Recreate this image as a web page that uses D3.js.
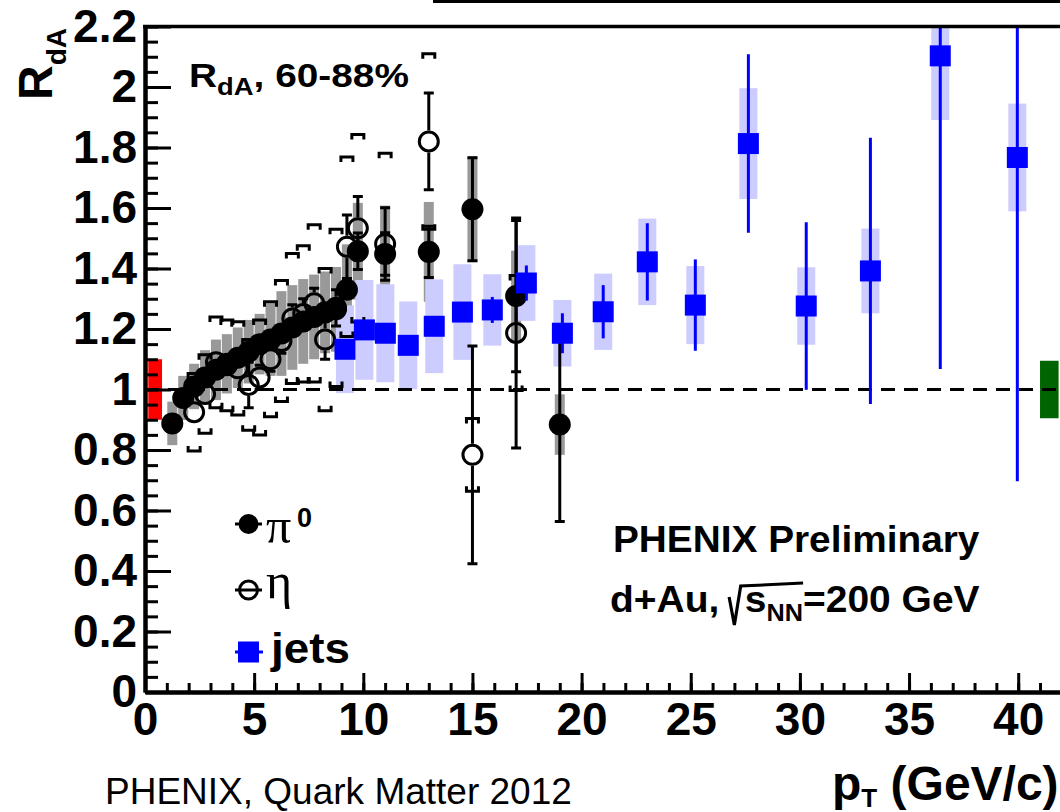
<!DOCTYPE html>
<html>
<head>
<meta charset="utf-8">
<script src="https://cdn.jsdelivr.net/npm/d3@7"></script>
<style>
  body { margin: 0; background: #fff; }
  svg { display: block; font-family: "Liberation Sans", Arial, Helvetica, sans-serif; }
</style>
</head>
<body>
<svg id="chart" width="1060" height="812"></svg>
<script>
'use strict';

// axis ticks
const xTicks = [0, 5, 10, 15, 20, 25, 30, 35, 40];
const yTicks = [0, 0.2, 0.4, 0.6, 0.8, 1, 1.2, 1.4, 1.6, 1.8, 2, 2.2];

// pi0 (filled circles): pT, RdA, stat error, syst error
const pi0Pt   = [1.25, 1.75, 2.25, 2.75, 3.25, 3.75, 4.25, 4.75, 5.25, 5.75, 6.25, 6.75, 7.25, 7.75, 8.25, 8.75, 9.25, 9.75, 11, 13, 15, 17, 19];
const pi0R    = [0.888, 0.972, 1.01, 1.04, 1.065, 1.085, 1.105, 1.125, 1.15, 1.165, 1.185, 1.205, 1.225, 1.24, 1.255, 1.265, 1.33, 1.457, 1.448, 1.455, 1.596, 1.309, 0.884];
const pi0Stat = [0.01, 0.01, 0.01, 0.01, 0.01, 0.01, 0.01, 0.012, 0.012, 0.015, 0.015, 0.018, 0.02, 0.02, 0.022, 0.025, 0.03, 0.06, 0.07, 0.085, 0.17, 0.25, 0.32];
const pi0Sys  = [0.072, 0.073, 0.075, 0.09, 0.1, 0.098, 0.1, 0.105, 0.1, 0.12, 0.14, 0.14, 0.14, 0.14, 0.135, 0.14, 0.15, 0.16, 0.16, 0.165, 0.175, 0.15, 0.1];

// eta (open circles)
const etaPt   = [2.25, 2.75, 3.25, 3.75, 4.25, 4.75, 5.25, 5.75, 6.25, 6.75, 7.25, 7.75, 8.25, 8.75, 9.25, 9.75, 11, 13, 15, 17];
const etaR    = [0.925, 0.985, 1.09, 1.08, 1.07, 1.015, 1.04, 1.10, 1.16, 1.235, 1.25, 1.285, 1.165, 1.27, 1.472, 1.533, 1.481, 1.82, 0.784, 1.187];
const etaStat = [0.02, 0.02, 0.02, 0.02, 0.025, 0.075, 0.04, 0.04, 0.04, 0.045, 0.05, 0.05, 0.065, 0.06, 0.105, 0.105, 0.12, 0.16, 0.36, 0.38];
const etaSys  = [0.128, 0.13, 0.15, 0.15, 0.154, 0.15, 0.19, 0.19, 0.2, 0.215, 0.225, 0.26, 0.235, 0.26, 0.297, 0.31, 0.30, 0.29, 0.12, 0.19];

// jets (blue squares)
const jetPt   = [9.16, 10.05, 11.01, 12.06, 13.25, 14.54, 15.91, 17.47, 19.12, 20.99, 23.01, 25.21, 27.64, 30.29, 33.23, 36.43, 39.96];
const jetR    = [1.133, 1.197, 1.186, 1.146, 1.209, 1.256, 1.263, 1.352, 1.186, 1.257, 1.422, 1.279, 1.813, 1.276, 1.392, 2.103, 1.767];
const jetStat = [0.02, 0.02, 0.02, 0.02, 0.025, 0.03, 0.043, 0.058, 0.066, 0.088, 0.128, 0.151, 0.295, 0.277, 0.44, 1.035, 1.07];
const jetSys  = [0.145, 0.165, 0.162, 0.145, 0.155, 0.158, 0.118, 0.125, 0.11, 0.126, 0.143, 0.129, 0.183, 0.128, 0.14, 0.212, 0.178];

// global normalisation uncertainty boxes (pT from, pT to, low, high)
const normFrom = [0.15, 41.0];
const normTo   = [0.78, 41.85];
const normLo   = [0.90, 0.905];
const normHi   = [1.10, 1.095];
const normColors = ["#ff0000", "#006400"];

const pi0 = pi0Pt.map((pt, i) => ({ pt, r: pi0R[i], stat: pi0Stat[i], sys: pi0Sys[i] }));
const eta = etaPt.map((pt, i) => ({ pt, r: etaR[i], stat: etaStat[i], sys: etaSys[i] }));
const jets = jetPt.map((pt, i) => ({ pt, r: jetR[i], stat: jetStat[i], sys: jetSys[i] }));
const norms = normFrom.map((f, i) => ({ from: f, to: normTo[i], lo: normLo[i], hi: normHi[i], color: normColors[i] }));

const svg = d3.select("#chart");

const x = d3.scaleLinear().domain([0, 43]).range([145, 145 + 43 * 21.83]);
const y = d3.scaleLinear().domain([0, 2.2]).range([692, 26.5]);

const markR = 11;

// crop leftover of the panel above
svg.append("rect").attr("x", 433).attr("y", 0).attr("width", 627).attr("height", 3).attr("fill", "#000");

svg.append("defs").append("clipPath").attr("id", "plotclip")
    .append("rect")
    .attr("x", x(0)).attr("y", y(2.2))
    .attr("width", x(43) - x(0)).attr("height", y(0) - y(2.2));

const plot = svg.append("g").attr("clip-path", "url(#plotclip)");

// pi0 systematics (grey bars)
plot.selectAll(".pi0sys")
    .data(pi0)
    .join("rect")
    .attr("class", "pi0sys")
    .attr("x", d => x(d.pt) - 5)
    .attr("width", 10)
    .attr("y", d => y(d.r + d.sys))
    .attr("height", d => y(d.r - d.sys) - y(d.r + d.sys))
    .attr("fill", "#999999");

// jet systematics (light blue boxes)
plot.selectAll(".jetsys")
    .data(jets)
    .join("rect")
    .attr("class", "jetsys")
    .attr("x", d => x(d.pt) - 9)
    .attr("width", 18)
    .attr("y", d => y(d.r + d.sys))
    .attr("height", d => y(d.r - d.sys) - y(d.r + d.sys))
    .attr("fill", "#ccccff");

// normalisation boxes
plot.selectAll(".norm")
    .data(norms)
    .join("rect")
    .attr("class", "norm")
    .attr("x", d => x(d.from))
    .attr("width", d => x(d.to) - x(d.from))
    .attr("y", d => y(d.hi))
    .attr("height", d => y(d.lo) - y(d.hi))
    .attr("fill", d => d.color);

// unity line
plot.append("line")
    .attr("x1", x(0)).attr("x2", x(43))
    .attr("y1", y(1)).attr("y2", y(1))
    .attr("stroke", "#000")
    .attr("stroke-width", 3)
    .attr("stroke-dasharray", "14,9");

// eta systematics (brackets)
plot.selectAll(".etasys")
    .data(eta)
    .join("path")
    .attr("class", "etasys")
    .attr("d", d => {
        const cx = x(d.pt), yt = y(d.r + d.sys), yb = y(d.r - d.sys);
        return `M${cx - 6},${yt + 5}V${yt}H${cx + 6}V${yt + 5}` +
               `M${cx - 6},${yb - 5}V${yb}H${cx + 6}V${yb - 5}`;
    })
    .attr("fill", "none")
    .attr("stroke", "#000")
    .attr("stroke-width", 3);

// pi0 stat bars
const pi0Err = plot.selectAll(".pi0err")
    .data(pi0.filter(d => y(d.r - d.stat) - y(d.r + d.stat) > 2 * markR))
    .join("g")
    .attr("class", "pi0err")
    .attr("stroke", "#000")
    .attr("stroke-width", 3);
pi0Err.append("line")
    .attr("x1", d => x(d.pt)).attr("x2", d => x(d.pt))
    .attr("y1", d => y(d.r + d.stat)).attr("y2", d => y(d.r - d.stat));
pi0Err.append("path")
    .attr("d", d => `M${x(d.pt) - 5},${y(d.r + d.stat)}h10M${x(d.pt) - 5},${y(d.r - d.stat)}h10`);

// eta stat bars, drawn outside the hollow marker
const etaErr = plot.selectAll(".etaerr")
    .data(eta.filter(d => y(d.r - d.stat) - y(d.r + d.stat) > 2 * markR))
    .join("g")
    .attr("class", "etaerr")
    .attr("stroke", "#000")
    .attr("stroke-width", 3);
etaErr.append("path")
    .attr("d", d => {
        const cx = x(d.pt), cy = y(d.r), yt = y(d.r + d.stat), yb = y(d.r - d.stat);
        return `M${cx},${cy - markR}V${yt}M${cx},${cy + markR}V${yb}` +
               `M${cx - 5},${yt}h10M${cx - 5},${yb}h10`;
    })
    .attr("fill", "none");

// markers
plot.selectAll(".pi0pt")
    .data(pi0)
    .join("circle")
    .attr("class", "pi0pt")
    .attr("cx", d => x(d.pt))
    .attr("cy", d => y(d.r))
    .attr("r", markR)
    .attr("fill", "#000");

plot.selectAll(".etapt")
    .data(eta)
    .join("circle")
    .attr("class", "etapt")
    .attr("cx", d => x(d.pt))
    .attr("cy", d => y(d.r))
    .attr("r", markR - 1.5)
    .attr("fill", "none")
    .attr("stroke", "#000")
    .attr("stroke-width", 3);

// jets
plot.selectAll(".jeterr")
    .data(jets)
    .join("line")
    .attr("class", "jeterr")
    .attr("x1", d => x(d.pt)).attr("x2", d => x(d.pt))
    .attr("y1", d => y(d.r + d.stat)).attr("y2", d => y(d.r - d.stat))
    .attr("stroke", "#0000ff")
    .attr("stroke-width", 3);

plot.selectAll(".jetpt")
    .data(jets)
    .join("rect")
    .attr("class", "jetpt")
    .attr("x", d => x(d.pt) - 10.5)
    .attr("y", d => y(d.r) - 10.5)
    .attr("width", 21)
    .attr("height", 21)
    .attr("fill", "#0000ff");

// axes
const yMinor = d3.axisLeft(y).tickValues(d3.range(0, 2.2001, 0.05)).tickSize(-13).tickSizeOuter(0).tickFormat("");
const yMajor = d3.axisLeft(y).tickValues(yTicks).tickSize(-26).tickSizeOuter(0).tickPadding(8).tickFormat(d3.format("~g"));
const xMinor = d3.axisBottom(x).tickValues(d3.range(0, 43, 1)).tickSize(-9).tickSizeOuter(0).tickFormat("");
const xMajor = d3.axisBottom(x).tickValues(xTicks).tickSize(-19).tickSizeOuter(0).tickPadding(10).tickFormat(d3.format("d"));

function styleAxis(g) {
    g.attr("font-family", "'Liberation Sans', Arial, sans-serif")
        .attr("font-size", 46)
        .attr("font-weight", "bold");
    g.select(".domain").attr("stroke-width", 4);
    g.selectAll(".tick line").attr("stroke-width", 3);
    g.selectAll(".tick text").attr("fill", "#000");
}

svg.append("g").attr("transform", `translate(${x(0)},0)`).call(yMinor).call(styleAxis);
svg.append("g").attr("transform", `translate(${x(0)},0)`).call(yMajor).call(styleAxis);
svg.append("g").attr("transform", `translate(0,${y(0)})`).call(xMinor).call(styleAxis);
svg.append("g").attr("transform", `translate(0,${y(0)})`).call(xMajor).call(styleAxis);

// top frame
svg.append("line")
    .attr("x1", x(0) - 2).attr("x2", x(43))
    .attr("y1", y(2.2)).attr("y2", y(2.2))
    .attr("stroke", "#000").attr("stroke-width", 3.5);

// fit a text group horizontally into [x0, x0+w]
function fit(g, x0, w) {
    const bb = g.node().getBBox();
    const k = w / bb.width;
    g.attr("transform", `translate(${x0},0) scale(${k},1) translate(${-bb.x},0)`);
}

// y title
const yt = svg.append("text")
    .attr("transform", "translate(52,100) rotate(-90)")
    .attr("font-size", 48).attr("font-weight", "bold");
yt.append("tspan").text("R");
yt.append("tspan").attr("font-size", 28).attr("dy", 14).text("dA");

// x title
const xt = svg.append("text")
    .attr("x", 832).attr("y", 800)
    .attr("font-size", 48).attr("font-weight", "bold");
xt.append("tspan").text("p");
xt.append("tspan").attr("font-size", 26).attr("dy", 7).text("T");
xt.append("tspan").attr("dy", -7).text(" (GeV/c)");

// centrality label
const cg = svg.append("g");
const ct = cg.append("text").attr("y", 87).attr("font-size", 34).attr("font-weight", "bold");
ct.append("tspan").text("R");
ct.append("tspan").attr("font-size", 24).attr("dy", 8).text("dA");
ct.append("tspan").attr("dy", -8).text(", 60-88%");
fit(cg, 189, 220);

// PHENIX labels
const pg = svg.append("g");
pg.append("text").attr("y", 552).attr("font-size", 37).attr("font-weight", "bold").text("PHENIX Preliminary");
fit(pg, 613, 367);

const sg = svg.append("g");
const st = sg.append("text").attr("y", 612).attr("font-size", 37).attr("font-weight", "bold");
st.append("tspan").text("d+Au, ");
st.append("tspan").attr("dx", 14).text("s");
st.append("tspan").attr("font-size", 24).attr("dy", 9).text("NN");
st.append("tspan").attr("dy", -9).text("=200 GeV");
{
    const n = st.node();
    const sx = n.getStartPositionOfChar(6).x;
    const ex = n.getEndPositionOfChar(8).x;
    const by = 612;
    sg.append("path")
        .attr("d", `M${sx - 15},${by - 15}L${sx - 10},${by + 13}L${sx - 4},${by - 26}L${ex},${by - 29}`)
        .attr("fill", "none").attr("stroke", "#000").attr("stroke-width", 3)
        .attr("stroke-linejoin", "miter");
}
fit(sg, 610, 370);

const qg = svg.append("g");
qg.append("text").attr("y", 804).attr("font-size", 36).text("PHENIX, Quark Matter 2012");
fit(qg, 105, 467);

// legend
const leg = svg.append("g");
leg.append("line").attr("x1", 235).attr("x2", 262).attr("y1", 524).attr("y2", 524).attr("stroke", "#000").attr("stroke-width", 3);
leg.append("circle").attr("cx", 248.5).attr("cy", 524).attr("r", 10).attr("fill", "#000");
leg.append("text").attr("x", 266).attr("y", 543).attr("font-family", "'Liberation Serif', serif").attr("font-size", 50).text("π");
leg.append("text").attr("x", 297).attr("y", 527).attr("font-size", 27).attr("font-weight", "bold").text("0");

leg.append("line").attr("x1", 235).attr("x2", 262).attr("y1", 590).attr("y2", 590).attr("stroke", "#000").attr("stroke-width", 3);
leg.append("circle").attr("cx", 248.5).attr("cy", 590).attr("r", 9).attr("fill", "none").attr("stroke", "#000").attr("stroke-width", 3);
leg.append("text").attr("x", 266).attr("y", 598).attr("font-family", "'Liberation Serif', serif").attr("font-size", 50).text("η");

leg.append("line").attr("x1", 235).attr("x2", 263).attr("y1", 652).attr("y2", 652).attr("stroke", "#0000ff").attr("stroke-width", 3);
leg.append("rect").attr("x", 238).attr("y", 641.5).attr("width", 21).attr("height", 21).attr("fill", "#0000ff");
const jg = svg.append("g");
jg.append("text").attr("y", 663).attr("font-size", 42).attr("font-weight", "bold").text("jets");
fit(jg, 270, 80);
</script>
</body>
</html>
